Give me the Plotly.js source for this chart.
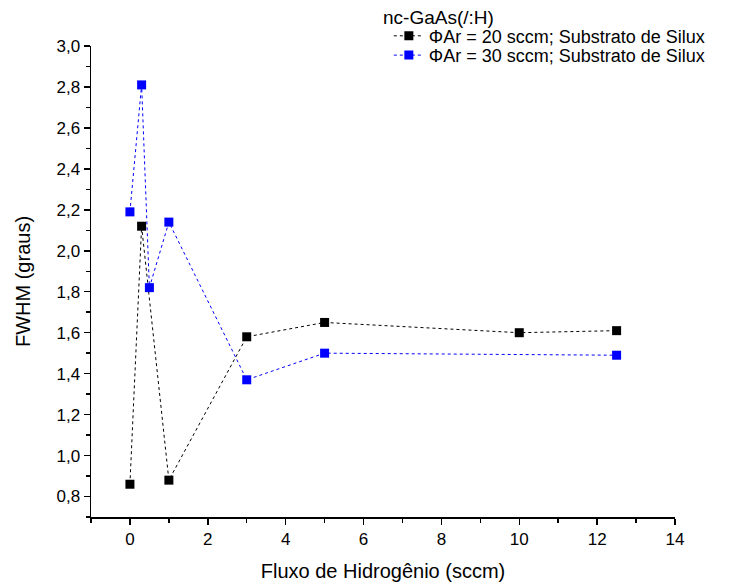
<!DOCTYPE html>
<html>
<head>
<meta charset="utf-8">
<script src="https://cdn.plot.ly/plotly-3.0.1.min.js"></script>
<style>html,body{margin:0;padding:0;background:#fff;}#chart{width:749px;height:585px;}</style>
</head>
<body>
<div id="chart"></div>
<script>
const x20 = [0, 0.3, 1, 3, 5, 10, 12.5];
const y20 = [0.86, 2.12, 0.88, 1.58, 1.65, 1.60, 1.61];
const x30 = [0, 0.3, 0.5, 1, 3, 5, 12.5];
const y30 = [2.19, 2.81, 1.82, 2.14, 1.37, 1.50, 1.49];
const name20 = "\u03A6Ar = 20 sccm; Substrato de Silux";
const name30 = "\u03A6Ar = 30 sccm; Substrato de Silux";
const legendTitle = "nc-GaAs(/:H)";

const traces = [
  {x: x20, y: y20, name: name20, type: "scatter", mode: "lines+markers", legend: "legend",
   line: {color: "#000000", width: 1, dash: "dot"},
   marker: {symbol: "square", size: 9, color: "#000000"}},
  {x: x30, y: y30, name: name30, type: "scatter", mode: "lines+markers", legend: "legend2",
   line: {color: "#0000ff", width: 1, dash: "dot"},
   marker: {symbol: "square", size: 9, color: "#0000ff"}}
];

const FONT = "Liberation Sans, Arial, sans-serif";
const axisCommon = {
  showline: true, linecolor: "#000", linewidth: 1.5, mirror: false,
  ticks: "outside", ticklen: 6, tickwidth: 1.5, tickcolor: "#000",
  showgrid: false, zeroline: false,
  tickfont: {family: FONT, size: 17, color: "#000"}
};
const legCommon = {
  xanchor: "left", yanchor: "middle",
  bgcolor: "rgba(0,0,0,0)", borderwidth: 0,
  font: {family: FONT, size: 18, color: "#000"}, itemwidth: 30
};

const layout = {
  width: 749, height: 585,
  margin: {l: 91, r: 74, t: 46, b: 68},
  paper_bgcolor: "#fff", plot_bgcolor: "#fff",
  separators: ",.",
  font: {family: FONT, size: 17, color: "#000"},
  xaxis: Object.assign({}, axisCommon, {
    range: [-1, 14], dtick: 2, tick0: 0,
    minor: {dtick: 1, ticks: "outside", ticklen: 4, tickwidth: 1.5, tickcolor: "#000"},
    title: {text: "Fluxo de Hidrog\u00EAnio (sccm)", font: {size: 20}, standoff: 16}
  }),
  yaxis: Object.assign({}, axisCommon, {
    range: [0.7, 3.0], dtick: 0.2, tick0: 0.8, tickformat: ".1f",
    minor: {dtick: 0.1, ticks: "outside", ticklen: 4, tickwidth: 1.5, tickcolor: "#000"},
    title: {text: "FWHM (graus)", font: {size: 20}, standoff: 20}
  }),
  showlegend: true,
  legend: Object.assign({}, legCommon, {x: 0.51, y: 1.021}),
  legend2: Object.assign({}, legCommon, {x: 0.51, y: 0.980}),
  annotations: [{
    text: legendTitle, xref: "paper", yref: "paper", x: 0.497, y: 1.061,
    xanchor: "left", yanchor: "middle", showarrow: false,
    font: {family: FONT, size: 19, color: "#000"}
  }]
};

Plotly.newPlot("chart", traces, layout, {staticPlot: true});
</script>
</body>
</html>
